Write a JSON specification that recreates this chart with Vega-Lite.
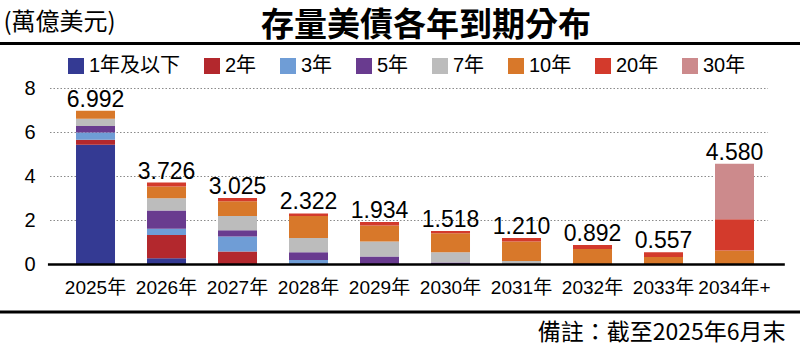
{
  "$schema": "https://vega.github.io/schema/vega-lite/v6.json",
  "width": 800,
  "height": 295,
  "autosize": "none",
  "padding": {"top": 50, "left": 0, "right": 0, "bottom": 0},
  "background": "white",
  "title": {
    "text": "存量美債各年到期分布",
    "font": "Noto Sans CJK TC",
    "fontSize": 33,
    "fontWeight": "bold",
    "color": "black",
    "anchor": "middle",
    "frame": "group",
    "dx": 26,
    "offset": -33
  },
  "datasets": {
    "segments": [
      {"year": "2025年", "tenor": "1年及以下", "value": 5.44},
      {"year": "2025年", "tenor": "2年", "value": 0.23},
      {"year": "2025年", "tenor": "3年", "value": 0.33},
      {"year": "2025年", "tenor": "5年", "value": 0.30},
      {"year": "2025年", "tenor": "7年", "value": 0.32},
      {"year": "2025年", "tenor": "10年", "value": 0.372},
      {"year": "2026年", "tenor": "1年及以下", "value": 0.28},
      {"year": "2026年", "tenor": "2年", "value": 1.066},
      {"year": "2026年", "tenor": "3年", "value": 0.28},
      {"year": "2026年", "tenor": "5年", "value": 0.83},
      {"year": "2026年", "tenor": "7年", "value": 0.55},
      {"year": "2026年", "tenor": "10年", "value": 0.54},
      {"year": "2026年", "tenor": "20年", "value": 0.18},
      {"year": "2027年", "tenor": "2年", "value": 0.59},
      {"year": "2027年", "tenor": "3年", "value": 0.68},
      {"year": "2027年", "tenor": "5年", "value": 0.29},
      {"year": "2027年", "tenor": "7年", "value": 0.65},
      {"year": "2027年", "tenor": "10年", "value": 0.66},
      {"year": "2027年", "tenor": "20年", "value": 0.155},
      {"year": "2028年", "tenor": "3年", "value": 0.20},
      {"year": "2028年", "tenor": "5年", "value": 0.36},
      {"year": "2028年", "tenor": "7年", "value": 0.65},
      {"year": "2028年", "tenor": "10年", "value": 0.992},
      {"year": "2028年", "tenor": "20年", "value": 0.12},
      {"year": "2029年", "tenor": "5年", "value": 0.36},
      {"year": "2029年", "tenor": "7年", "value": 0.68},
      {"year": "2029年", "tenor": "10年", "value": 0.737},
      {"year": "2029年", "tenor": "20年", "value": 0.157},
      {"year": "2030年", "tenor": "5年", "value": 0.095},
      {"year": "2030年", "tenor": "7年", "value": 0.46},
      {"year": "2030年", "tenor": "10年", "value": 0.868},
      {"year": "2030年", "tenor": "20年", "value": 0.095},
      {"year": "2031年", "tenor": "7年", "value": 0.16},
      {"year": "2031年", "tenor": "10年", "value": 0.89},
      {"year": "2031年", "tenor": "20年", "value": 0.16},
      {"year": "2032年", "tenor": "10年", "value": 0.702},
      {"year": "2032年", "tenor": "20年", "value": 0.19},
      {"year": "2033年", "tenor": "10年", "value": 0.337},
      {"year": "2033年", "tenor": "20年", "value": 0.22},
      {"year": "2034年+", "tenor": "10年", "value": 0.635},
      {"year": "2034年+", "tenor": "20年", "value": 1.42},
      {"year": "2034年+", "tenor": "30年", "value": 2.525}
    ],
    "totals": [
      {"year": "2025年", "total": 6.992},
      {"year": "2026年", "total": 3.726},
      {"year": "2027年", "total": 3.025},
      {"year": "2028年", "total": 2.322},
      {"year": "2029年", "total": 1.934},
      {"year": "2030年", "total": 1.518},
      {"year": "2031年", "total": 1.210},
      {"year": "2032年", "total": 0.892},
      {"year": "2033年", "total": 0.557},
      {"year": "2034年+", "total": 4.580}
    ],
    "grid": [{"v": 2}, {"v": 4}, {"v": 6}, {"v": 8}]
  },
  "layer": [
    {
      "data": {"name": "segments"},
      "mark": {"type": "bar", "opacity": 0},
      "encoding": {
        "x": {
          "field": "year",
          "type": "nominal",
          "scale": {
            "domain": ["2025年", "2026年", "2027年", "2028年", "2029年", "2030年", "2031年", "2032年", "2033年", "2034年+"],
            "paddingInner": 0.4507,
            "paddingOuter": 0.8592,
            "align": 0.623,
            "round": false
          },
          "axis": {
            "title": "備註：截至2025年6月末",
            "bandPosition": 0.5,
            "labelAngle": 0,
            "domain": false,
            "ticks": false,
            "tickSize": 0,
            "grid": false,
            "labelPadding": 6,
            "offset": -73,
            "labelFont": "Liberation Sans, Noto Sans CJK TC",
            "labelFontSize": 19,
            "labelColor": "black",
            "titleFont": "Noto Sans CJK TC",
            "titleFontSize": 23,
            "titleFontWeight": "normal",
            "titleColor": "black",
            "titleX": 785,
            "titleY": 60,
            "titleAlign": "right",
            "titleBaseline": "middle"
          }
        },
        "y": {
          "field": "value",
          "type": "quantitative",
          "stack": "zero",
          "scale": {"domain": [-3.659, 9.75], "nice": false, "zero": false},
          "axis": {
            "values": [0, 2, 4, 6, 8],
            "grid": false,
            "domain": false,
            "ticks": false,
            "tickSize": 0,
            "offset": -48,
            "labelPadding": 13,
            "labelFont": "Liberation Sans",
            "labelFontSize": 20,
            "labelColor": "black",
            "title": "(萬億美元)",
            "titleAngle": 0,
            "titleX": -45,
            "titleY": -28,
            "titleAlign": "left",
            "titleBaseline": "middle",
            "titleFont": "Noto Sans CJK TC",
            "titleFontSize": 24,
            "titleFontWeight": "normal",
            "titleColor": "black"
          }
        }
      }
    },
    {
      "data": {"name": "grid"},
      "mark": {"type": "rule", "stroke": "#8a8a8a", "strokeWidth": 1, "strokeDash": [1.5, 2]},
      "encoding": {
        "y": {"field": "v", "type": "quantitative"},
        "x": {"datum": "2025年", "type": "nominal", "bandPosition": -0.667},
        "x2": {"datum": "2034年+", "bandPosition": 1.36}
      }
    },
    {
      "data": {"name": "segments"},
      "transform": [
        {"calculate": "indexof(['1年及以下','2年','3年','5年','7年','10年','20年','30年'], datum.tenor)", "as": "k"}
      ],
      "mark": {"type": "bar"},
      "encoding": {
        "x": {"field": "year", "type": "nominal"},
        "y": {"field": "value", "type": "quantitative", "stack": "zero"},
        "color": {
          "field": "tenor",
          "type": "nominal",
          "scale": {
            "domain": ["1年及以下", "2年", "3年", "5年", "7年", "10年", "20年", "30年"],
            "range": ["#343a93", "#b3282d", "#6f9dd6", "#693b8f", "#bcbcbc", "#d8782a", "#d33a2c", "#cc8a8c"]
          },
          "legend": {
            "orient": "none",
            "legendX": 66,
            "legendY": 6,
            "direction": "horizontal",
            "columns": 8,
            "title": null,
            "padding": 0,
            "symbolType": "square",
            "symbolSize": 256,
            "symbolStrokeWidth": 0,
            "symbolOpacity": 1,
            "labelFont": "Liberation Sans, Noto Sans CJK TC",
            "labelFontSize": 20,
            "labelColor": "black",
            "labelOffset": 3,
            "columnPadding": 21
          }
        },
        "order": {"field": "k", "type": "quantitative", "sort": "ascending"}
      }
    },
    {
      "data": {"values": [{}]},
      "mark": {"type": "rule", "stroke": "black", "strokeWidth": 2.5},
      "encoding": {
        "y": {"datum": 0, "type": "quantitative"},
        "x": {"datum": "2025年", "type": "nominal", "bandPosition": -0.72},
        "x2": {"datum": "2034年+", "bandPosition": 1.79}
      }
    },
    {
      "data": {"values": [{}]},
      "mark": {"type": "rule", "stroke": "black", "strokeWidth": 3},
      "encoding": {
        "y": {"datum": 10.045, "type": "quantitative"}
      }
    },
    {
      "data": {"values": [{}]},
      "mark": {"type": "rule", "stroke": "black", "strokeWidth": 3},
      "encoding": {
        "y": {"datum": -2.159, "type": "quantitative"}
      }
    },
    {
      "data": {"name": "totals"},
      "mark": {"type": "text", "font": "Liberation Sans", "fontSize": 23, "color": "black", "baseline": "alphabetic", "dy": -4},
      "encoding": {
        "x": {"field": "year", "type": "nominal"},
        "y": {"field": "total", "type": "quantitative"},
        "text": {"field": "total", "type": "quantitative", "format": ".3f"}
      }
    }
  ],
  "config": {
    "view": {"stroke": null}
  }
}
